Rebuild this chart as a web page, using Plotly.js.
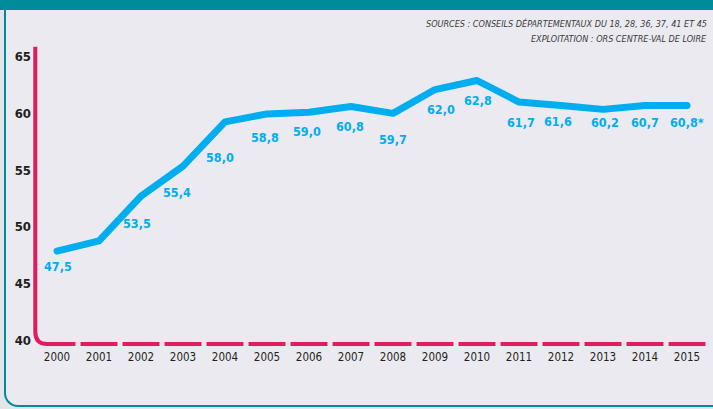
<!DOCTYPE html>
<html>
<head>
<meta charset="utf-8">
<script src="https://cdn.plot.ly/plotly-3.0.1.min.js"></script>
<style>
  html, body { margin: 0; padding: 0; width: 713px; height: 409px; overflow: hidden; background: #e3e6e9; }
  #band { position: absolute; left: 0; top: 0; width: 713px; height: 10px; background: #008b9a; }
  #frame { position: absolute; left: 4px; top: 10px; width: 720px; height: 395px;
           border-left: 2px solid #008b9a; border-bottom: 2px solid #008b9a;
           border-bottom-left-radius: 14px; background: #ebeaf0; }
  #chart { position: absolute; left: 0; top: 0; width: 713px; height: 409px; }
  .scatterlayer .trace:nth-child(2) path.js-line { stroke-linecap: round; stroke-linejoin: round; }
</style>
</head>
<body>
<div id="band"></div>
<div id="frame"></div>
<div id="chart"></div>
<script>
// ---- data ----
const years = [2000, 2001, 2002, 2003, 2004, 2005, 2006, 2007, 2008, 2009, 2010, 2011, 2012, 2013, 2014, 2015];
const rate = [47.85, 48.75, 52.7, 55.35, 59.25, 59.95, 60.1, 60.6, 60.0, 62.1, 62.9, 61.0, 60.7, 60.35, 60.7, 60.7];
const labelYears = [2000, 2002, 2003, 2004, 2005, 2006, 2007, 2008, 2009, 2010, 2011, 2012, 2013, 2014, 2015];
const labelTexts = ['47,5', '53,5', '55,4', '58,0', '58,8', '59,0', '60,8', '59,7', '62,0', '62,8', '61,7', '61,6', '60,2', '60,7', '60,8*'];
const yTicks = [40, 45, 50, 55, 60, 65];
const yTickText = ['40', '45', '50', '55', '60', '65'];
const xTickText = years.map(String);
const sourceLines = ['SOURCES : CONSEILS DÉPARTEMENTAUX DU 18, 28, 36, 37, 41 ET 45', 'EXPLOITATION : ORS CENTRE-VAL DE LOIRE'];

// ---- style ----
const labelOffsets = [[1,15],[-4,27],[-6,26],[-5,36],[-2,24],[-2,19],[-1,20],[0,26],[6,20],[1,20],[2,20],[-3,16],[2,13],[0,17],[0,17]];
const FONT = 'Liberation Sans Narrow, DejaVu Sans Condensed, Arial Narrow, sans-serif';
const BLUE = '#00aeef', PINK = '#e01b5f', DARK = '#231f20';
const W = 713, H = 409, ML = 37, MR = 5, MT = 40, MB = 62;
const PW = W - ML - MR, PH = H - MT - MB;
const PXX = 42, PXY = 11.332;
const x0 = 2000 - (57 - ML) / PXX, x1 = x0 + PW / PXX;
const y0 = 40 - (H - MB - 340) / PXY, y1 = 40 + (340 - MT) / PXY;
const xp = px => (px - ML) / PW;
const yp = py => (H - MB - py) / PH;
const baseY = 40 - 4 / PXY;

// dashed x axis built from the categories
const dx = [], dy = [];
years.forEach((yr, i) => {
  dx.push(i === 0 ? yr - 0.2 : yr - 0.44, yr + 0.44, null);
  dy.push(baseY, baseY, null);
});

const traces = [
  { x: dx, y: dy, mode: 'lines', line: { color: PINK, width: 4 }, hoverinfo: 'skip', showlegend: false },
  { x: years, y: rate, mode: 'lines', line: { color: BLUE, width: 7 }, hoverinfo: 'skip', showlegend: false }
];

const annotations = labelYears.map((yr, i) => ({
  x: yr, y: rate[years.indexOf(yr)], xref: 'x', yref: 'y',
  text: labelTexts[i], showarrow: false,
  xshift: labelOffsets[i][0], yshift: -labelOffsets[i][1],
  font: { family: FONT, size: 12.5, color: BLUE, weight: 'bold' }
}));
sourceLines.forEach((t, i) => annotations.push({
  xref: 'paper', yref: 'paper', x: xp(709), y: yp(24 + i * 15),
  xanchor: 'right', yanchor: 'middle', showarrow: false,
  text: '<i>' + t + '</i>',
  font: { family: FONT, size: 9, color: '#3a3a3a' }
}));

const cx = 35.3, ctop = 46.7, cb = 344, r = 12;
const shapes = [{
  type: 'path', xref: 'paper', yref: 'paper', layer: 'above',
  path: 'M ' + xp(cx) + ',' + yp(ctop) + ' L ' + xp(cx) + ',' + yp(cb - r) +
        ' Q ' + xp(cx) + ',' + yp(cb) + ' ' + xp(cx + r) + ',' + yp(cb) +
        ' L ' + xp(60) + ',' + yp(cb),
  line: { color: PINK, width: 4 }
}];

const layout = {
  width: W, height: H,
  margin: { l: ML, r: MR, t: MT, b: MB, pad: 0 },
  paper_bgcolor: 'rgba(0,0,0,0)', plot_bgcolor: 'rgba(0,0,0,0)',
  showlegend: false,
  xaxis: {
    range: [x0, x1], tickvals: years, ticktext: xTickText,
    showgrid: false, zeroline: false, showline: false, ticks: '',
    ticklabelstandoff: 1,
    tickfont: { family: FONT, size: 11.5, color: DARK }
  },
  yaxis: {
    range: [y0, y1], tickvals: yTicks, ticktext: yTickText,
    showgrid: false, zeroline: false, showline: false, ticks: '',
    ticklabelstandoff: 5,
    tickfont: { family: FONT, size: 13, color: DARK, weight: 'bold' }
  },
  annotations: annotations,
  shapes: shapes
};

Plotly.newPlot('chart', traces, layout, { staticPlot: true, displayModeBar: false });
</script>
</body>
</html>
